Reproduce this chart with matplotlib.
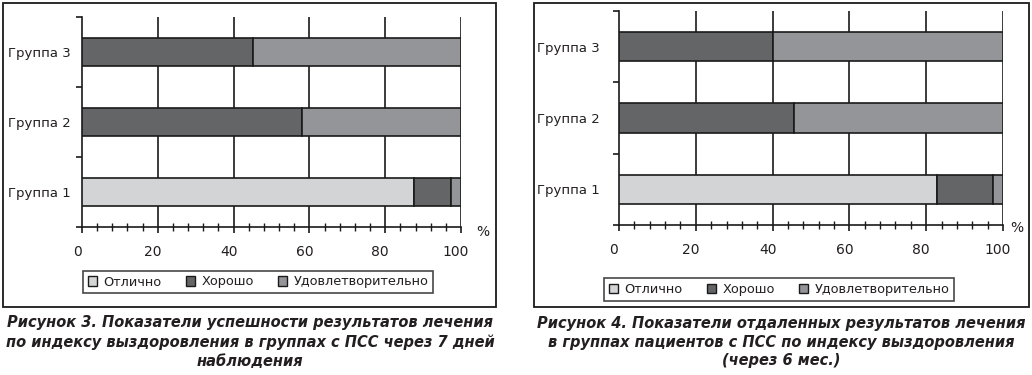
import matplotlib
matplotlib.use("Agg")
import matplotlib.pyplot as plt
from matplotlib.patches import Rectangle, Patch
import matplotlib.transforms as mtransforms
import numpy as np

plt.rcParams['font.family'] = ['DejaVu Sans']

# ---- data ----
groups = ["Группа 1", "Группа 2", "Группа 3"]
series_names = ["Отлично", "Хорошо", "Удовлетворительно"]
colors = ["#d3d4d6", "#646567", "#949598"]

left_excellent = [87.6, 0, 0]
left_good = [9.8, 58, 45]
left_satisf = [2.6, 42, 55]

right_excellent = [82.7, 0, 0]
right_good = [14.8, 45.7, 40]
right_satisf = [2.5, 54.3, 60]

xticks = [0, 20, 40, 60, 80, 100]
xtick_labels = ["0", "20", "40", "60", "80", "100"]

caption_left = ("Рисунок 3. Показатели успешности результатов лечения\n"
                "по индексу выздоровления в группах с ПСС через 7 дней\n"
                "наблюдения")
caption_right = ("Рисунок 4. Показатели отдаленных результатов лечения\n"
                 "в группах пациентов с ПСС по индексу выздоровления\n"
                 "(через 6 мес.)")

W, H = 1032, 375
fig = plt.figure(figsize=(W / 100, H / 100), dpi=100)
TXT = "#231f20"


def px_axes(x0, y0, x1, y1):
    return fig.add_axes([x0 / W, 1 - y1 / H, (x1 - x0) / W, (y1 - y0) / H])


def draw_chart(ax, exc, good, sat, ypad, pct_dx, pct_dy):
    y = np.arange(len(groups))
    left = np.zeros(len(groups))
    for vals, col in zip([exc, good, sat], colors):
        vals = np.array(vals, dtype=float)
        ax.barh(y, vals, left=left, height=0.41, color=col,
                edgecolor="#1a1a1a", linewidth=1.2, zorder=3)
        left += vals
    ax.set_xlim(0, 100)
    ax.set_ylim(-0.5, len(groups) - 0.5)
    for sp in ["top", "right"]:
        ax.spines[sp].set_visible(False)
    for sp in ["left", "bottom"]:
        ax.spines[sp].set_linewidth(1.2)
        ax.spines[sp].set_color("#1a1a1a")
    for xv in xticks[1:]:
        ax.axvline(xv, color="#1a1a1a", lw=1.2, zorder=1)
    ax.set_xticks(xticks)
    ax.set_xticklabels(xtick_labels)
    ax.set_xticks(np.arange(0, 101, 4), minor=True)
    ax.tick_params(axis="x", which="major", direction="out", length=4,
                   width=1.2, color="#1a1a1a", labelsize=10,
                   labelcolor=TXT, pad=9)
    ax.tick_params(axis="x", which="minor", direction="inout", length=6,
                   width=1.0, color="#1a1a1a")
    # y: ticks at category boundaries, labels at centres
    ax.set_yticks(np.arange(-0.5, len(groups), 1.0))
    ax.set_yticklabels([""] * (len(groups) + 1))
    ax.set_yticks(y, minor=True)
    ax.set_yticklabels(groups, minor=True)
    ax.tick_params(axis="y", which="major", direction="out", length=4,
                   width=1.2, color="#1a1a1a")
    ax.tick_params(axis="y", which="minor", length=0, labelsize=9.5,
                   labelcolor=TXT, pad=ypad)
    off = mtransforms.ScaledTranslation(-5 / 100, 0, fig.dpi_scale_trans)
    for lab in ax.get_xticklabels():
        lab.set_transform(lab.get_transform() + off)
    ax.annotate("%", xy=(1, 0), xycoords="axes fraction",
                xytext=(pct_dx, pct_dy), textcoords="offset pixels",
                ha="center", va="center", fontsize=10, color=TXT)


axL = px_axes(82, 17, 461, 227)
draw_chart(axL, left_excellent, left_good, left_satisf, 8, 22, -5)
axR = px_axes(619, 11, 1003, 225)
draw_chart(axR, right_excellent, right_good, right_satisf, 14, 14, -3)

# frames
for (x0, y0, x1, y1) in [(3, 3, 496, 307), (534, 3, 1029, 307)]:
    fig.patches.append(Rectangle((x0 / W, 1 - y1 / H), (x1 - x0) / W,
                                 (y1 - y0) / H, transform=fig.transFigure,
                                 fill=False, edgecolor="#1a1a1a", lw=1.3))

handles = [Patch(facecolor=c, edgecolor="#1a1a1a", linewidth=1.0, label=n)
           for c, n in zip(colors, series_names)]
for cx, cy in [(258, 282), (779, 289.5)]:
    leg = fig.legend(handles=handles, loc="center",
                     bbox_to_anchor=(cx / W, 1 - cy / H), ncol=3,
                     fontsize=9.3, frameon=True, fancybox=False,
                     edgecolor="#1a1a1a", handlelength=0.7, handleheight=0.7,
                     handletextpad=0.5, columnspacing=1.9,
                     borderpad=0.35, labelcolor=TXT)
    leg.get_frame().set_linewidth(1.2)

for cx, txt in [(250, caption_left), (781, caption_right)]:
    fig.text(cx / W, 1 - 342 / H, txt, ha="center", va="center",
             fontsize=11.7, fontweight="bold", fontstyle="italic",
             fontstretch="condensed", linespacing=1.32, color=TXT)

fig.savefig("out.png", dpi=100)
